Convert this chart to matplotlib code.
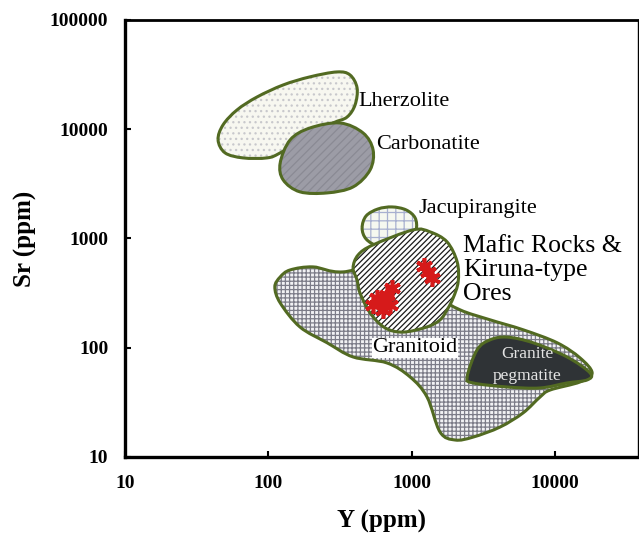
import numpy as np
import matplotlib
matplotlib.use("Agg")
import matplotlib.pyplot as plt
from matplotlib.path import Path
from matplotlib.patches import PathPatch

# field outlines, Y (ppm) and Sr (ppm)
lherz_y = [44.6, 48.3, 60.5, 83.4, 127, 195, 301, 371, 416, 403, 354, 283, 195, 121, 98, 66.5, 49.9]
lherz_sr = [7980, 10940, 15000, 19700, 25400, 30100, 33400, 31400, 23900, 16700, 12900, 11400,
            8850, 6070, 5460, 5460, 6070]

carb_y = [121, 142, 195, 316, 458, 538, 513, 390, 257, 166, 127]
carb_sr = [4910, 7980, 10250, 11400, 9240, 6460, 4240, 2960, 2610, 2670, 3430]

jacu_y = [451, 481, 583, 730, 914, 1057, 1074, 959, 766, 583, 481]
jacu_sr = [1247, 1607, 1862, 1942, 1825, 1542, 1197, 969, 853, 853, 988]

mafic_y = [390, 423, 538, 1023, 1344, 1766, 2077, 2110, 1947, 1766, 1578, 1280, 871, 652, 513, 436, 416]
mafic_sr = [537, 706, 873, 1197, 1148, 930, 610, 400, 285, 222, 180, 155, 139, 152, 208, 317, 417]

gran_y = [121, 142, 205, 332, 830, 1500, 2178, 3523, 5985, 10350, 14960, 18160, 14960, 9245,
          7870, 5985, 4139, 2682, 2010, 1578, 1280, 975, 673, 390, 257, 166, 121, 111]
gran_sr = [444, 515, 549, 494, 610, 300, 222, 180, 146, 111, 80.6, 58.7, 48.6, 41.0,
           35.4, 25.3, 18.8, 15.2, 14.3, 16.9, 35.4, 54.0, 72.5, 82.3, 111, 155, 257, 360]

peg_y = [2438, 2858, 3523, 4634, 7033, 12140, 17580, 16760, 12140, 7870, 4634, 2682]
peg_sr = [54.0, 95.5, 118, 125, 111, 82.3, 58.7, 50.7, 47.6, 42.8, 43.7, 47.6]

# Kiruna-type ore samples
ore_y = [538, 603, 673, 730, 706, 631, 574, 1300, 1386, 1222]
ore_sr = [246, 262, 304, 352, 246, 222, 285, 494, 436, 560]

labels = ["Lherzolite", "Carbonatite", "Jacupirangite", "Mafic Rocks &\nKiruna-type\nOres",
          "Granitoid", "Granite\npegmatite"]
label_y = [423, 565, 1109, 2286, 1057, 6380]
label_sr = [17800, 7180, 1860, 515, 99.5, 69.5]


def smooth_path(xs, ys):
    # closed catmull-rom curve through the points, built in log space
    lx = np.log10(xs)
    ly = np.log10(ys)
    n = len(lx)
    verts = [(lx[0], ly[0])]
    codes = [Path.MOVETO]
    for i in range(n):
        p0 = np.array([lx[i - 1], ly[i - 1]])
        p1 = np.array([lx[i], ly[i]])
        p2 = np.array([lx[(i + 1) % n], ly[(i + 1) % n]])
        p3 = np.array([lx[(i + 2) % n], ly[(i + 2) % n]])
        c1 = p1 + (p2 - p0) / 6
        c2 = p2 - (p3 - p1) / 6
        verts += [tuple(c1), tuple(c2), tuple(p2)]
        codes += [Path.CURVE4] * 3
    verts = 10 ** np.array(verts)
    return Path(verts, codes)


def field(ax, xs, ys, face, hatch, hatch_col, z):
    path = smooth_path(xs, ys)
    ax.add_patch(PathPatch(path, facecolor=face, edgecolor=hatch_col, hatch=hatch,
                           linewidth=0, zorder=z))
    ax.add_patch(PathPatch(path, facecolor="none", edgecolor="#526a22",
                           linewidth=2.2, zorder=z + 0.1))


plt.rcParams["hatch.linewidth"] = 0.9
fig = plt.figure(figsize=(6.39, 5.38), dpi=100)
ax = fig.add_axes([0.1956, 0.1506, 0.8030, 0.8124])
ax.set_xscale("log")
ax.set_yscale("log")
ax.set_xlim(10, 38000)
ax.set_ylim(10, 100000)

field(ax, lherz_y, lherz_sr, "#f7f7f0", "...", "#c8c8cc", 2)
field(ax, carb_y, carb_sr, "#9c9ca6", "////", "#8a8a94", 3)
field(ax, gran_y, gran_sr, "#f2f2f4", "++++", "#7c7c88", 2)
field(ax, peg_y, peg_sr, "#2f3336", None, "#2f3336", 4)
field(ax, jacu_y, jacu_sr, "#f6f8f0", "++", "#a8b0d0", 4)
field(ax, mafic_y, mafic_sr, "white", "//////", "#1a1a1a", 5)

ax.plot(ore_y, ore_sr, linestyle="none", marker=(6, 2, 0), markersize=12,
        markeredgewidth=2.6, color="#d61a1a", zorder=7)

serif = "Liberation Serif"
for i, txt in enumerate(labels):
    if i == 3:
        ax.text(label_y[i], label_sr[i], txt, family=serif, fontsize=18.5, ha="left",
                va="center", zorder=8, linespacing=1.13)
    elif i == 4:
        ax.text(label_y[i], label_sr[i], txt, family=serif, fontsize=16, ha="center",
                va="center", zorder=8,
                bbox=dict(facecolor="white", edgecolor="none", pad=0.5))
    elif i == 5:
        ax.text(label_y[i], label_sr[i], txt, family=serif, fontsize=12.5, ha="center",
                va="center", color="#e4e4e4", zorder=8, linespacing=1.5)
    else:
        ax.text(label_y[i], label_sr[i], txt, family=serif, fontsize=16, ha="left",
                va="center", zorder=8)

ax.set_xticks([10, 100, 1000, 10000])
ax.set_xticklabels(["10", "100", "1000", "10000"])
ax.set_yticks([10, 100, 1000, 10000, 100000])
ax.set_yticklabels(["10", "100", "1000", "10000", "100000"])
ax.minorticks_off()
ax.tick_params(direction="in", length=4, width=1.5, labelsize=14)
ax.tick_params(axis="x", pad=13)
ax.tick_params(axis="y", pad=12)
for lab in ax.get_xticklabels() + ax.get_yticklabels():
    lab.set_family(serif)
    lab.set_fontweight("bold")

ax.spines["left"].set_linewidth(2.4)
ax.spines["bottom"].set_linewidth(2.4)
ax.spines["top"].set_linewidth(2.0)
ax.spines["right"].set_linewidth(1.0)

ax.set_xlabel("Y (ppm)", family=serif, fontsize=18, fontweight="bold", labelpad=13)
ax.set_ylabel("Sr (ppm)", family=serif, fontsize=18, fontweight="bold", labelpad=9)

fig.savefig("out.png", dpi=100)
